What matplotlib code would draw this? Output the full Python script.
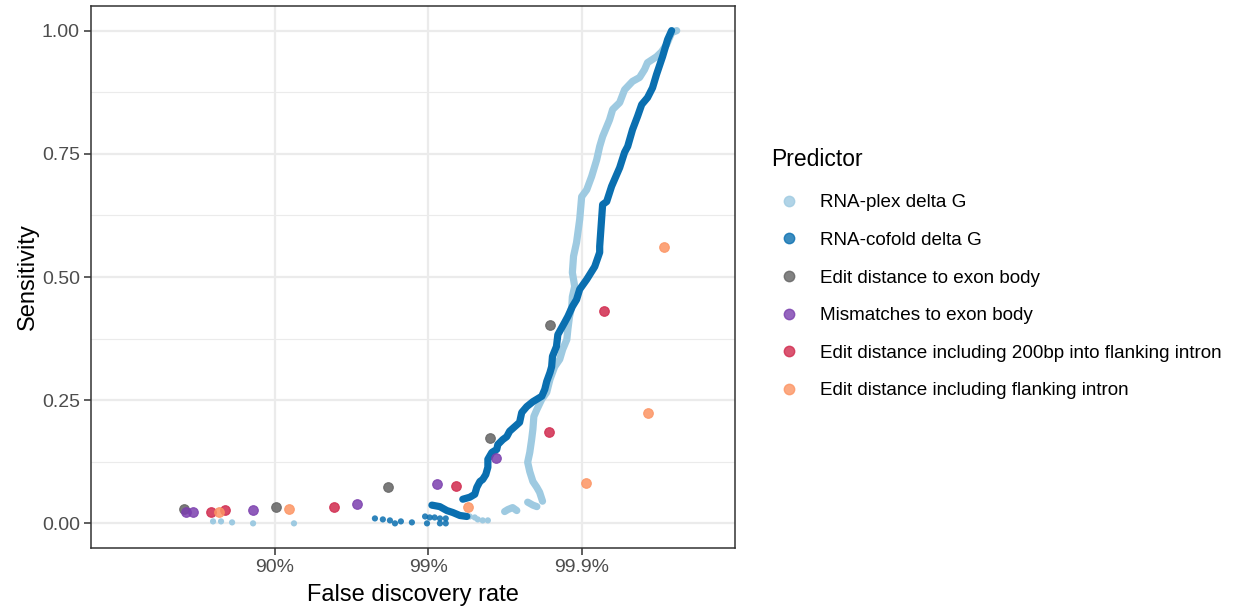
import numpy as np
import matplotlib
matplotlib.use("Agg")
import matplotlib.pyplot as plt
from matplotlib.lines import Line2D

plt.rcParams['font.family'] = ['Liberation Sans', 'DejaVu Sans']

# ---------------- data (FDR, sensitivity) ----------------
# RNA-plex delta G: scattered low-sensitivity points
plex_dots_fdr = [0.7465, 0.7751, 0.8095, 0.8610, 0.9248, 0.99463, 0.99502, 0.99524, 0.99558, 0.99591]
plex_dots_sens = [0.004, 0.004, 0.002, 0.000, 0.000, 0.014, 0.012, 0.008, 0.006, 0.006]
plex_frag1_fdr = [0.99682, 0.99697, 0.99718, 0.99735]
plex_frag1_sens = [0.024, 0.028, 0.032, 0.026]
plex_frag2_fdr = [0.99775, 0.99792, 0.99804]
plex_frag2_sens = [0.043, 0.037, 0.034]
plex_fdr = [0.99820, 0.99812, 0.99804, 0.99792, 0.99782, 0.99775, 0.99782, 0.99788, 0.99792,
            0.99795, 0.99804, 0.99818, 0.99831, 0.99839, 0.99850, 0.99861, 0.99867, 0.99875,
            0.99877, 0.99880, 0.99884, 0.99885, 0.99889, 0.99885, 0.99887, 0.99892, 0.99897,
            0.999000, 0.999073, 0.999139, 0.999202, 0.999237, 0.999270, 0.999342, 0.999372,
            0.999435, 0.999475, 0.999534, 0.999581, 0.999611, 0.999628, 0.999675, 0.999699,
            0.999721, 0.999741, 0.999760]
plex_sens = [0.045, 0.063, 0.073, 0.085, 0.105, 0.124, 0.144, 0.170, 0.191,
             0.217, 0.231, 0.252, 0.266, 0.292, 0.318, 0.333, 0.353, 0.373,
             0.394, 0.420, 0.440, 0.460, 0.481, 0.509, 0.542, 0.570, 0.617,
             0.663, 0.677, 0.704, 0.738, 0.765, 0.785, 0.819, 0.840,
             0.854, 0.880, 0.897, 0.905, 0.921, 0.935, 0.947, 0.957,
             0.972, 0.996, 1.000]

# RNA-cofold delta G
cofold_dots_fdr = [0.9777, 0.9802, 0.9822, 0.9835, 0.9849, 0.9872, 0.9895, 0.9898,
                   0.9902, 0.9909, 0.9916, 0.9916, 0.9923, 0.9923]
cofold_dots_sens = [0.010, 0.008, 0.006, 0.000, 0.004, 0.002, 0.014, 0.000,
                    0.012, 0.012, 0.010, 0.000, 0.010, 0.000]
cofold_frag_fdr = [0.99052, 0.99158, 0.99243, 0.99308, 0.99377, 0.99439]
cofold_frag_sens = [0.037, 0.034, 0.026, 0.022, 0.016, 0.014]
cofold_fdr = [0.99404, 0.99463, 0.99502, 0.99517, 0.99539, 0.99558, 0.99578, 0.99591, 0.99591,
              0.99615, 0.99642, 0.99648, 0.99673, 0.99692, 0.99705, 0.99746, 0.99754, 0.99772,
              0.99792, 0.99818, 0.99826, 0.99831, 0.99839, 0.99843, 0.99845, 0.99854, 0.99857,
              0.99871, 0.99877, 0.99885, 0.99892, 0.99897, 0.999073, 0.999178, 0.999237,
              0.999237, 0.999270, 0.999313, 0.999362, 0.999435, 0.999475, 0.999499, 0.999534,
              0.999568, 0.999594, 0.999628, 0.999655, 0.999675, 0.999703, 0.999725, 0.999741]
cofold_sens = [0.049, 0.053, 0.059, 0.073, 0.085, 0.089, 0.099, 0.114, 0.130,
               0.144, 0.150, 0.160, 0.170, 0.176, 0.187, 0.205, 0.225, 0.237,
               0.247, 0.258, 0.272, 0.288, 0.306, 0.318, 0.339, 0.359, 0.383,
               0.408, 0.420, 0.440, 0.454, 0.475, 0.495, 0.521, 0.550,
               0.562, 0.647, 0.653, 0.684, 0.722, 0.753, 0.765, 0.799,
               0.826, 0.850, 0.864, 0.884, 0.911, 0.947, 0.982, 1.000]

# Discrete predictors
edit_fdr = [0.608, 0.9015, 0.9816, 0.99603, 0.99839]
edit_sens = [0.030, 0.034, 0.073, 0.174, 0.402]
mism_fdr = [0.620, 0.658, 0.861, 0.9708, 0.99119, 0.99637]
mism_sens = [0.024, 0.024, 0.028, 0.039, 0.079, 0.132]
e200_fdr = [0.739, 0.788, 0.9587, 0.99338, 0.99836, 0.99929]
e200_sens = [0.024, 0.028, 0.034, 0.075, 0.185, 0.430]
eint_fdr = [0.768, 0.9189, 0.99447, 0.99907, 0.99963, 0.99971]
eint_sens = [0.024, 0.030, 0.034, 0.081, 0.225, 0.560]

labels = ["RNA-plex delta G", "RNA-cofold delta G", "Edit distance to exon body",
          "Mismatches to exon body", "Edit distance including 200bp into flanking intron",
          "Edit distance including flanking intron"]
colors = ["#9ecae1", "#0a6fb0", "#636363", "#7b3fae", "#d12a4e", "#fc9463"]

x_ticks = [0.9, 0.99, 0.999]
x_ticklabels = ["90%", "99%", "99.9%"]
y_ticks = [0.0, 0.25, 0.5, 0.75, 1.0]
y_ticklabels = ["0.00", "0.25", "0.50", "0.75", "1.00"]

# ---------------- figure ----------------
fig = plt.figure(figsize=(12.36, 6.09), dpi=100)
ax = fig.add_axes([91/1236, 1-548/609, (735-91)/1236, (548-6)/609])

def fwd(x):
    x = np.asarray(x, dtype=float)
    return -np.log10(np.clip(1 - x, 1e-12, None))

def inv(u):
    u = np.asarray(u, dtype=float)
    return 1 - 10.0 ** (-u)

ax.set_xscale('function', functions=(fwd, inv))
ax.set_xlim(1 - 10 ** 0.2, 1 - 10 ** -4.0)
ax.set_ylim(-0.05, 1.05)

# grid
grid_c = "#ebebeb"
for t in x_ticks:
    ax.axvline(t, color=grid_c, lw=1.6, zorder=0)
for t in y_ticks:
    ax.axhline(t, color=grid_c, lw=1.6, zorder=0)
for t in [0.125, 0.375, 0.625, 0.875]:
    ax.axhline(t, color=grid_c, lw=0.8, zorder=0)

lw_curve = 5.2
# RNA-plex
c = colors[0]
ax.plot(plex_fdr, plex_sens, color=c, lw=lw_curve, solid_capstyle='round', solid_joinstyle='round', zorder=2)
ax.plot(plex_frag1_fdr, plex_frag1_sens, color=c, lw=lw_curve, solid_capstyle='round', zorder=2)
ax.plot(plex_frag2_fdr, plex_frag2_sens, color=c, lw=lw_curve, solid_capstyle='round', zorder=2)
ax.scatter(plex_dots_fdr, plex_dots_sens, s=20, color=c, edgecolors='none', zorder=2)

# RNA-cofold
c = colors[1]
ax.plot(cofold_fdr, cofold_sens, color=c, lw=lw_curve, solid_capstyle='round', solid_joinstyle='round', zorder=3)
ax.plot(cofold_frag_fdr, cofold_frag_sens, color=c, lw=lw_curve, solid_capstyle='round', zorder=3)
ax.scatter(cofold_dots_fdr, cofold_dots_sens, s=20, color=c, alpha=0.85, edgecolors='none', zorder=3)

# discrete predictors
for fx, sy, col in [(edit_fdr, edit_sens, colors[2]), (mism_fdr, mism_sens, colors[3]),
                    (e200_fdr, e200_sens, colors[4]), (eint_fdr, eint_sens, colors[5])]:
    ax.scatter(fx, sy, s=48, color=col, alpha=0.85, edgecolors=col, linewidths=0.8, zorder=4)

ax.set_xticks(x_ticks)
ax.set_xticklabels(x_ticklabels)
ax.minorticks_off()
ax.set_yticks(y_ticks)
ax.set_yticklabels(y_ticklabels)
ax.tick_params(axis='both', which='major', length=5, width=1.1, color='#333333',
               labelsize=14, labelcolor='#4d4d4d', pad=3)
for sp in ax.spines.values():
    sp.set_color('#333333')
    sp.set_linewidth(1.1)

ax.set_xlabel("False discovery rate", fontsize=17, color='black', labelpad=6)
ax.set_ylabel("Sensitivity", fontsize=17, color='black', labelpad=2)

# legend
fig.text(771/1236, 1-160/609, "Predictor", fontsize=16.5, ha='left', va='center', color='black')
handles = [Line2D([], [], linestyle='none', marker='o', markersize=7.5,
                  markerfacecolor=col, markeredgecolor=col, alpha=0.8) for col in colors]
leg = fig.legend(handles, labels, loc='upper left', bbox_to_anchor=(763/1236, 1-179/609),
                 frameon=False, fontsize=13.6,
                 labelspacing=1.08, handlelength=1.2, handletextpad=1.0, borderpad=0.3)

fig.savefig("out.png", dpi=100)
